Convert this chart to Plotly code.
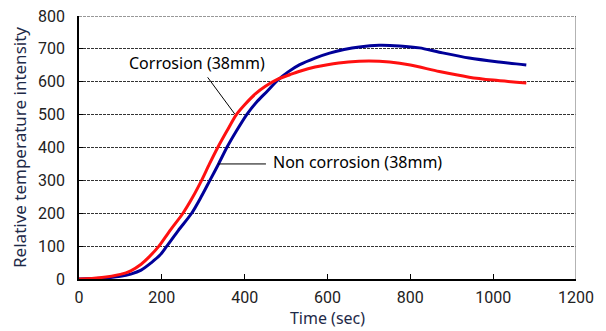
import plotly.graph_objects as go

# Corrosion (38mm) - red
t_corr = [0, 50, 100, 125, 150, 170, 193, 220, 251, 275, 296, 315, 335, 357, 380, 400, 425, 450, 480, 510, 533, 570, 600, 650, 700, 750, 800, 870, 942, 1000, 1080]
y_corr = [0, 4, 14, 25, 45, 68, 100, 148, 200, 250, 300, 350, 400, 450, 500, 530, 562, 586, 608, 622, 632, 645, 652, 660, 663, 660, 651, 631, 614, 605, 596]

# Non corrosion (38mm) - blue
t_non = [0, 50, 100, 125, 150, 175, 195, 212, 240, 272, 295, 316, 337, 357, 380, 405, 430, 455, 480, 505, 533, 570, 605, 640, 677, 725, 774, 822, 870, 942, 1014, 1080]
y_non = [0, 2, 8, 15, 27, 50, 72, 100, 148, 200, 250, 300, 350, 400, 450, 500, 540, 572, 605, 630, 652, 672, 687, 698, 706, 711, 709, 703, 690, 672, 660, 651]

x_ticks = [0, 200, 400, 600, 800, 1000, 1200]
y_ticks = [0, 100, 200, 300, 400, 500, 600, 700, 800]

FONT = "Noto Sans"
TICKFONT = "Roboto"

fig = go.Figure()
fig.add_trace(go.Scatter(x=t_non, y=y_non, mode="lines", line=dict(color="#000099", width=3, shape="spline", smoothing=0.8),
                         name="Non corrosion (38mm)", showlegend=False))
fig.add_trace(go.Scatter(x=t_corr, y=y_corr, mode="lines", line=dict(color="#ff1010", width=3, shape="spline", smoothing=0.8),
                         name="Corrosion (38mm)", showlegend=False))

# right border
fig.add_shape(type="line", xref="x", yref="y", x0=1200, x1=1200, y0=0, y1=800,
              line=dict(color="#9a9a9a", width=1.5))
# top gridline (dashed)
fig.add_shape(type="line", xref="x", yref="y", x0=0, x1=1200, y0=800, y1=800,
              line=dict(color="#333333", width=1, dash="3px,1px"))

# leader lines + labels
fig.add_annotation(x=376, y=502, ax=308, ay=618, xref="x", yref="y", axref="x", ayref="y",
                   text="", showarrow=True, arrowhead=0, arrowwidth=1, arrowcolor="#000000")
fig.add_annotation(x=284, y=657, xref="x", yref="y", text="Corrosion (38mm)", showarrow=False,
                   font=dict(family=FONT, size=16, color="#000000"))
fig.add_annotation(x=335, y=350, ax=455, ay=350, xref="x", yref="y", axref="x", ayref="y",
                   text="", showarrow=True, arrowhead=0, arrowwidth=1, arrowcolor="#000000")
fig.add_annotation(x=463, y=356, xref="x", yref="y", text="Non corrosion (38mm)", showarrow=False,
                   xanchor="left", font=dict(family=FONT, size=16, color="#000000"))

# page body has an 8px margin, so the figure is 8px smaller than the window
fig.update_layout(
    width=598, height=323,
    margin=dict(l=71, r=30, t=8, b=52),
    paper_bgcolor="white", plot_bgcolor="white",
    font=dict(family=FONT, size=15, color="#000000"),
    xaxis=dict(range=[0, 1200], tickvals=x_ticks, ticks="inside", ticklen=5, tickcolor="#000",
               showline=True, linecolor="#000", linewidth=1.5, showgrid=False, zeroline=False,
               automargin=False, tickfont=dict(family=TICKFONT, size=16, color="#222"), ticklabelstandoff=3,
               ticklabeloverflow="allow",
               title=dict(text="Time (sec)", font=dict(family=FONT, size=16, color="#1e2a48"), standoff=2)),
    yaxis=dict(range=[0, 800], tickvals=y_ticks, ticks="inside", ticklen=4, tickcolor="#000",
               showline=True, linecolor="#000", linewidth=1.5, showgrid=True,
               gridcolor="#333333", gridwidth=1, griddash="3px,1px", zeroline=False,
               automargin=False, tickfont=dict(family=TICKFONT, size=16, color="#222"), ticklabelstandoff=9,
               ticklabeloverflow="allow",
               title=dict(text="Relative temperature intensity", font=dict(family=FONT, size=17, color="#1e2a48"), standoff=10)),
)

fig.write_html("out.html")
